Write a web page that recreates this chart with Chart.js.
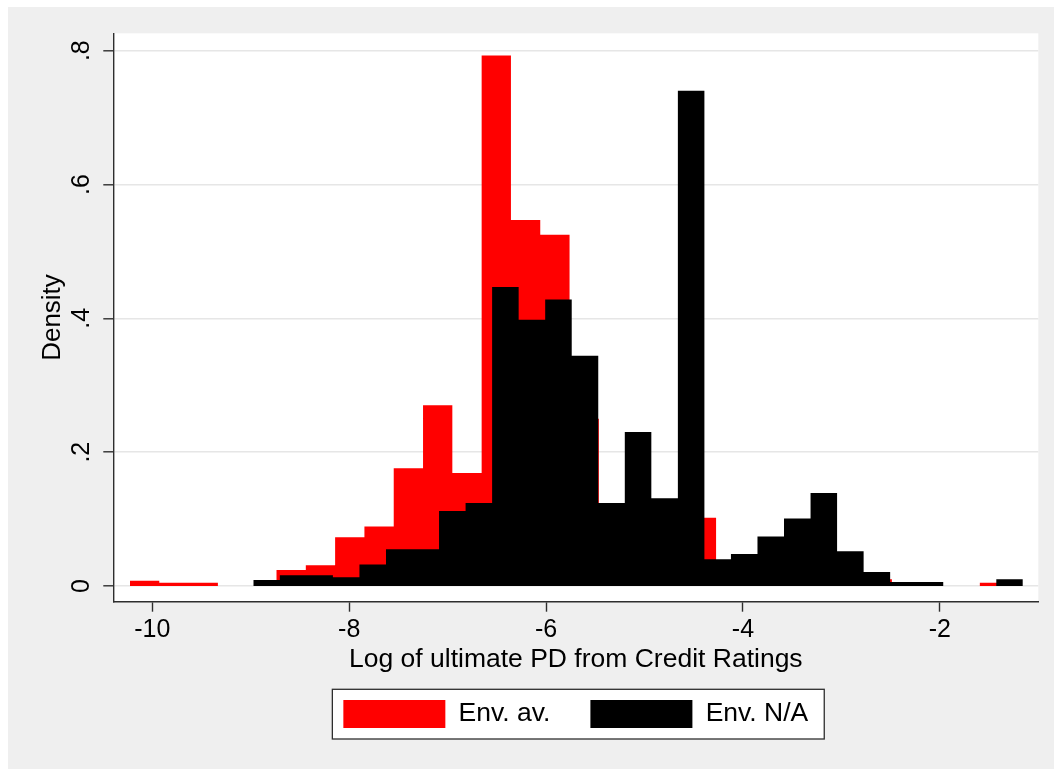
<!DOCTYPE html>
<html>
<head>
<meta charset="utf-8">
<script src="https://cdn.jsdelivr.net/npm/chart.js@4.4.1/dist/chart.umd.min.js"></script>
<style>
  html, body { margin: 0; padding: 0; background: #ffffff; }
  canvas { display: block; }
</style>
</head>
<body>
<canvas id="c" width="1054" height="769"></canvas>
<script>
// ---- data ----
const seriesLabels = ['Env. av.', 'Env. N/A'];
const xTitle = 'Log of ultimate PD from Credit Ratings';
const yTitle = 'Density';

// Env. av. (red) histogram: bin origin, bin width, densities
const redBinStart = -10.2266;
const redBinWidth = 0.29768;
const redDensity = [0.008, 0.005, 0.005, 0, 0, 0.024, 0.031, 0.073, 0.089, 0.176,
                    0.270, 0.169, 0.793, 0.547, 0.525, 0.25, 0.10, 0.12, 0.10, 0.102,
                    0.03, 0.03, 0.03, 0.02, 0.02, 0.01, 0.006, 0, 0, 0.005];

// Env. N/A (black) histogram
const blackBinStart = -8.974;
const blackBinWidth = 0.26955;
const blackDensity = [0.009, 0.016, 0.016, 0.013, 0.032, 0.055, 0.055, 0.112, 0.124, 0.447,
                      0.398, 0.428, 0.344, 0.124, 0.230, 0.131, 0.740, 0.040, 0.048, 0.074,
                      0.101, 0.139, 0.052, 0.021, 0.006, 0.006, 0, 0, 0.010];

const xTickValues = [-10, -8, -6, -4, -2];
const xTickLabels = ['-10', '-8', '-6', '-4', '-2'];
const yTickValues = [0, 0.2, 0.4, 0.6, 0.8];
const yTickLabels = ['0', '.2', '.4', '.6', '.8'];

// ---- build step outlines for the histogram bars ----
function histSteps(start, width, vals) {
  const pts = vals.map((v, i) => ({ x: start + i * width, y: v }));
  pts.push({ x: start + vals.length * width, y: vals[vals.length - 1] });
  return pts;
}

const FONT = 'Liberation Sans, Arial, Helvetica, sans-serif';
const TEXT = '#000000';
const AXIS = '#2e2e2e';

const bgPlugin = {
  id: 'stataBackground',
  beforeDraw(chart) {
    const { ctx, chartArea } = chart;
    ctx.save();
    ctx.fillStyle = '#ffffff';
    ctx.fillRect(0, 0, chart.width, chart.height);
    ctx.fillStyle = '#efefef';
    ctx.fillRect(8, 7, chart.width - 8, chart.height - 7);
    ctx.fillStyle = '#ffffff';
    ctx.fillRect(chartArea.left, chartArea.top, chartArea.right - chartArea.left, chartArea.bottom - chartArea.top);
    // legend frame
    const lg = chart.legend;
    if (lg && lg.legendHitBoxes && lg.legendHitBoxes.length) {
      const hb = lg.legendHitBoxes;
      let l = Infinity, r = -Infinity, t = Infinity, b = -Infinity;
      hb.forEach(h => {
        l = Math.min(l, h.left); r = Math.max(r, h.left + h.width);
        t = Math.min(t, h.top); b = Math.max(b, h.top + h.height);
      });
      const x0 = l - 11, y0 = t - 10.7, x1 = r + 16, y1 = b + 11;
      ctx.fillStyle = '#ffffff';
      ctx.fillRect(x0, y0, x1 - x0, y1 - y0);
      ctx.strokeStyle = AXIS;
      ctx.lineWidth = 1.3;
      ctx.strokeRect(x0, y0, x1 - x0, y1 - y0);
    }
    ctx.restore();
  }
};

new Chart(document.getElementById('c').getContext('2d'), {
  type: 'line',
  data: {
    datasets: [
      {
        label: seriesLabels[0],
        data: histSteps(redBinStart, redBinWidth, redDensity),
        stepped: true,
        fill: 'origin',
        backgroundColor: '#ff0000',
        borderColor: 'rgba(0,0,0,0)',
        borderWidth: 0,
        pointRadius: 0,
        order: 1
      },
      {
        label: seriesLabels[1],
        data: histSteps(blackBinStart, blackBinWidth, blackDensity),
        stepped: true,
        fill: 'origin',
        backgroundColor: '#000000',
        borderColor: 'rgba(0,0,0,0)',
        borderWidth: 0,
        pointRadius: 0,
        order: 0
      }
    ]
  },
  options: {
    responsive: false,
    animation: false,
    events: [],
    layout: { padding: { left: 8, top: 33.3, right: 15.7, bottom: 31 } },
    plugins: {
      tooltip: { enabled: false },
      legend: {
        position: 'bottom',
        fullSize: false,
        labels: {
          boxWidth: 102,
          boxHeight: 28,
          padding: 40,
          color: TEXT,
          font: { family: FONT, size: 26.5 },
          sort: (a, b) => a.datasetIndex - b.datasetIndex
        }
      }
    },
    scales: {
      x: {
        type: 'linear',
        min: -10.396,
        max: -1.0,
        afterBuildTicks: s => { s.ticks = xTickValues.map(v => ({ value: v })); },
        afterFit: s => { s.height = 58.3; },
        ticks: {
          callback: (v, i) => xTickLabels[i],
          autoSkip: false,
          maxRotation: 0,
          minRotation: 0,
          padding: 3,
          color: TEXT,
          font: { family: FONT, size: 25 }
        },
        grid: {
          display: true,
          drawOnChartArea: false,
          drawTicks: true,
          tickLength: 10,
          tickColor: AXIS,
          tickWidth: 1.4
        },
        border: { display: true, color: AXIS, width: 1.4 },
        title: {
          display: true,
          text: xTitle,
          color: TEXT,
          font: { family: FONT, size: 26.5 },
          padding: { top: 0, bottom: -15.9 }
        }
      },
      y: {
        type: 'linear',
        min: -0.02346,
        max: 0.826,
        afterBuildTicks: s => { s.ticks = yTickValues.map(v => ({ value: v })); },
        afterFit: s => { s.width = 105.3; },
        ticks: {
          callback: (v, i) => yTickLabels[i],
          autoSkip: false,
          minRotation: 90,
          maxRotation: 90,
          crossAlign: 'center',
          padding: 10.6,
          color: TEXT,
          font: { family: FONT, size: 25 }
        },
        grid: {
          display: true,
          drawOnChartArea: true,
          drawTicks: true,
          color: '#e6e6e6',
          lineWidth: 1.6,
          tickLength: 10,
          tickColor: AXIS,
          tickWidth: 1.4
        },
        border: { display: true, color: AXIS, width: 1.4 },
        title: {
          display: true,
          text: yTitle,
          color: TEXT,
          font: { family: FONT, size: 26 },
          padding: { top: 29, bottom: 0 }
        }
      }
    }
  },
  plugins: [bgPlugin]
});
</script>
</body>
</html>
